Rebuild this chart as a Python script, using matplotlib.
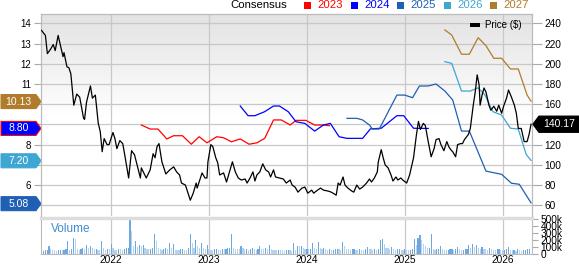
import matplotlib.pyplot as plt
import matplotlib.transforms as mtransforms
from matplotlib.patches import Polygon, Rectangle
import numpy as np

plt.rcParams['font.family'] = ['Liberation Sans', 'DejaVu Sans']

# price, weekly-ish samples (decimal year, $)
price_t = [2021.29, 2021.33, 2021.35, 2021.38, 2021.41, 2021.43, 2021.46, 2021.51, 2021.52, 2021.55,
           2021.57, 2021.59, 2021.62, 2021.65, 2021.68, 2021.72, 2021.73, 2021.75, 2021.79, 2021.81,
           2021.84, 2021.87, 2021.89, 2021.91, 2021.93, 2021.96, 2021.98, 2022.02, 2022.04, 2022.06,
           2022.09, 2022.12, 2022.14, 2022.18, 2022.21, 2022.24, 2022.30, 2022.31, 2022.36, 2022.40,
           2022.43, 2022.45, 2022.47, 2022.49, 2022.52, 2022.56, 2022.60, 2022.64, 2022.67, 2022.70,
           2022.72, 2022.76, 2022.77, 2022.81, 2022.84, 2022.87, 2022.88, 2022.93, 2022.96, 2022.98,
           2022.99, 2023.02, 2023.04, 2023.07, 2023.09, 2023.11, 2023.15, 2023.18, 2023.21, 2023.24,
           2023.27, 2023.30, 2023.33, 2023.37, 2023.39, 2023.42, 2023.45, 2023.47, 2023.49, 2023.52,
           2023.55, 2023.58, 2023.61, 2023.63, 2023.66, 2023.68, 2023.72, 2023.76, 2023.79, 2023.83,
           2023.85, 2023.88, 2023.91, 2023.95, 2023.98, 2024.01, 2024.05, 2024.07, 2024.11, 2024.14,
           2024.17, 2024.22, 2024.25, 2024.30, 2024.32, 2024.34, 2024.37, 2024.39, 2024.42, 2024.46,
           2024.48, 2024.51, 2024.54, 2024.57, 2024.61, 2024.64, 2024.66, 2024.69, 2024.72, 2024.73,
           2024.76, 2024.78, 2024.80, 2024.83, 2024.86, 2024.88, 2024.91, 2024.93, 2024.96, 2024.98,
           2025.02, 2025.05, 2025.09, 2025.12, 2025.14, 2025.16, 2025.19, 2025.21, 2025.24, 2025.27,
           2025.30, 2025.32, 2025.35, 2025.37, 2025.40, 2025.43, 2025.45, 2025.47, 2025.49, 2025.52,
           2025.54, 2025.57, 2025.59, 2025.61, 2025.65, 2025.67, 2025.70, 2025.72, 2025.74, 2025.76,
           2025.77, 2025.79, 2025.81, 2025.83, 2025.86, 2025.88, 2025.91, 2025.94, 2025.96, 2025.99,
           2026.01, 2026.04, 2026.06, 2026.09, 2026.12, 2026.14, 2026.16, 2026.19, 2026.22, 2026.25,
           2026.27, 2026.29]
price = [233, 228, 210, 214, 219, 213, 228, 207, 211, 197,
         196, 190, 159, 170, 167, 146, 145, 162, 178, 166,
         169, 141, 133, 113, 126, 120, 120, 132, 126, 116,
         124, 121, 110, 87, 114, 110, 87, 97, 87, 95,
         111, 107, 118, 121, 103, 91, 95, 98, 93, 90,
         82, 80, 77, 65, 72, 82, 77, 92, 87, 87,
         103, 120, 118, 107, 102, 90, 92, 83, 93, 103,
         93, 87, 85, 86, 82, 87, 93, 84, 90, 93,
         101, 95, 93, 88, 95, 88, 87, 86, 82, 85,
         80, 78, 73, 77, 78, 72, 75, 72, 75, 77,
         75, 74, 73, 70, 82, 80, 88, 80, 77, 74,
         73, 80, 76, 78, 82, 86, 83, 87, 93, 103,
         115, 107, 100, 97, 90, 84, 88, 85, 87, 85,
         82, 90, 107, 130, 143, 135, 141, 139, 123, 108,
         116, 125, 126, 120, 114, 123, 118, 115, 113, 108,
         120, 121, 121, 125, 130, 136, 159, 172, 189, 179,
         159, 169, 176, 172, 159, 154, 158, 153, 159, 151,
         158, 166, 174, 167, 159, 151, 136, 136, 123, 123,
         130, 140.17]

# consensus EPS estimates by fiscal year
c2023_t = [2022.31, 2022.40, 2022.48, 2022.57, 2022.64, 2022.73, 2022.82, 2022.90, 2022.98, 2023.08,
           2023.15, 2023.23, 2023.32, 2023.41, 2023.49, 2023.57, 2023.66, 2023.74, 2023.83, 2023.89,
           2023.99, 2024.08, 2024.17, 2024.23]
c2023 = [8.97, 8.77, 8.77, 8.28, 8.44, 8.44, 8.02, 8.39, 8.09, 8.39,
         8.34, 8.14, 8.28, 8.02, 8.09, 8.31, 9.22, 9.22, 8.97, 9.20,
         9.20, 8.97, 8.97, 8.94]
c2024_t = [2023.32, 2023.40, 2023.47, 2023.57, 2023.66, 2023.72, 2023.81, 2023.89, 2023.98, 2024.08,
           2024.17, 2024.24, 2024.33, 2024.41, 2024.57, 2024.65, 2024.76, 2024.92, 2024.99, 2025.09,
           2025.24]
c2024 = [9.91, 9.43, 9.43, 9.63, 9.91, 9.91, 9.63, 9.13, 9.05, 8.67,
         8.97, 9.05, 8.39, 8.31, 8.31, 8.78, 8.81, 9.43, 9.43, 8.81,
         8.80]
c2025_t = [2024.41, 2024.51, 2024.57, 2024.64, 2024.67, 2024.74, 2024.92, 2025.00, 2025.08, 2025.15,
           2025.24, 2025.32, 2025.41, 2025.49, 2025.58, 2025.66, 2025.83, 2025.99, 2026.09, 2026.17,
           2026.26, 2026.29]
c2025 = [9.30, 9.30, 9.22, 8.97, 8.77, 8.77, 10.45, 10.45, 10.32, 10.90,
         10.90, 11.00, 10.65, 10.21, 8.67, 8.67, 6.69, 6.53, 6.09, 6.04,
         5.35, 5.12]
c2026_t = [2025.41, 2025.48, 2025.58, 2025.67, 2025.75, 2025.82, 2025.90, 2025.99, 2026.08, 2026.16,
           2026.24, 2026.29]
c2026 = [12.10, 12.02, 10.65, 10.65, 10.81, 10.45, 9.63, 9.46, 8.81, 8.77,
         7.52, 7.22]
c2027_t = [2025.41, 2025.48, 2025.58, 2025.66, 2025.75, 2025.83, 2025.91, 2025.99, 2026.08, 2026.16,
           2026.25, 2026.29]
c2027 = [13.67, 13.42, 12.47, 12.47, 13.29, 12.89, 12.27, 12.27, 11.74, 11.74,
         10.45, 10.15]

# weekly volume (thousands), starting week of 2021.29
vol_start = 2021.29
volume = [40, 45, 50, 60, 120, 70, 55, 50, 45, 50, 55, 50, 60, 65, 190, 60, 65, 230, 220, 70,
          60, 75, 80, 70, 130, 90, 120, 80, 70, 75, 60, 55, 190, 90, 60, 70, 65, 140, 80, 60,
          55, 70, 65, 60, 75, 80, 90, 480, 330, 120, 180, 100, 130, 120, 130, 80, 70, 65, 75, 90,
          290, 190, 90, 70, 60, 75, 80, 70, 150, 90, 140, 60, 55, 50, 65, 70, 60, 55, 80, 290,
          150, 90, 200, 110, 80, 150, 90, 70, 130, 75, 60, 55, 65, 70, 60, 55, 70, 65, 75, 80,
          90, 280, 80, 75, 70, 65, 120, 80, 70, 75, 60, 65, 80, 70, 60, 65, 120, 75, 70, 80,
          65, 130, 75, 60, 55, 50, 60, 55, 50, 45, 50, 55, 50, 45, 160, 60, 120, 110, 120, 90,
          70, 75, 65, 70, 160, 80, 70, 170, 90, 75, 90, 70, 60, 65, 55, 60, 65, 75, 70, 60,
          170, 120, 75, 65, 60, 70, 75, 60, 55, 65, 60, 55, 75, 100, 70, 65, 60, 70, 55, 65,
          205, 215, 140, 90, 80, 70, 100, 75, 60, 65, 70, 60, 55, 65, 60, 55, 60, 70, 220, 130,
          230, 270, 200, 140, 120, 90, 90, 280, 70, 60, 65, 75, 120, 70, 60, 55, 60, 65, 70, 60,
          75, 100, 65, 55, 60, 70, 75, 130, 90, 140, 100, 130, 85, 75, 100, 70, 65, 60, 80, 75,
          60, 55, 65, 70, 55, 50, 60, 65, 95, 60, 50, 55, 45, 70, 50, 45, 55, 60, 65, 70]

years = [2022, 2023, 2024, 2025, 2026]
series = [('2023', '#ff0000', c2023_t, c2023),
          ('2024', '#0000ff', c2024_t, c2024),
          ('2025', '#1f5fb4', c2025_t, c2025),
          ('2026', '#3ea6d2', c2026_t, c2026),
          ('2027', '#b07c2c', c2027_t, c2027)]
tags = [(10.13, '#b07c2c', '#b07c2c'), (8.80, '#0000ff', '#ff0000'),
        (7.20, '#3ea6d2', '#3ea6d2'), (5.08, '#1f5fb4', '#1f5fb4')]

W, H = 579, 264
def fx(x): return x / W
def fy(y): return 1 - y / H

fig = plt.figure(figsize=(W / 100, H / 100), dpi=100)
ax = fig.add_axes([fx(41), fy(216), fx(532) - fx(41), fy(14) - fy(216)])
axv = fig.add_axes([fx(41), fy(254), fx(532) - fx(41), fy(218) - fy(254)])
ax2 = ax.twinx()

xmin, xmax = 2021.285, 2026.30
ylo, yhi = 4.47, 14.46

# background gradient
g = np.ones((200, 1, 3))
top = np.array([0.89, 0.89, 0.89])
for i in range(100):
    g[i, 0] = top + (1 - top) * i / 100
ax.imshow(g, extent=[0, 1, 0, 1], transform=ax.transAxes, aspect='auto', zorder=0)

gridc = '#c8c8c8'
for yv in range(5, 15):
    ax.axhline(yv, color=gridc, lw=0.9, zorder=1)
for yr in years:
    ax.axvline(yr, color=gridc, lw=0.9, zorder=1)
    axv.axvline(yr, color=gridc, lw=0.9, zorder=0)

for name, col, t, v in series:
    ax.plot(t, v, color=col, lw=0.9, zorder=3)

ax2.plot(price_t, price, color='black', lw=0.9, zorder=4)

ax.set_xlim(xmin, xmax)
ax.set_ylim(ylo, yhi)
ax2.set_ylim(20 * (ylo - 2), 20 * (yhi - 2))
ax.set_xticks([])
# labels hidden where a tag sits on top of them
left_ticks = list(range(5, 15))
ax.set_yticks(left_ticks)
ax.set_yticklabels(['' if v in (5, 7, 9, 10) else str(v) for v in left_ticks])
ax.tick_params(axis='y', length=5, color='#aaaaaa', labelsize=7, pad=2)
right_ticks = list(range(60, 241, 20))
ax2.set_yticks(right_ticks)
ax2.set_yticklabels(['' if v == 140 else str(v) for v in right_ticks])
ax2.tick_params(axis='y', length=7, color='#aaaaaa', labelsize=7.3, pad=2)
for a in (ax, ax2):
    for s in a.spines.values():
        s.set_color('#bbbbbb')
        s.set_linewidth(0.8)
    a.spines['bottom'].set_visible(False)

# left tags
tl = mtransforms.blended_transform_factory(ax.transAxes, ax.transData)
x0, x1, xt = (1 - 41) / 491, (36 - 41) / 491, 0.0
hh = 7 / 20.22
for val, fc, ec in tags:
    pts = [(x0, val - hh), (x1, val - hh), (xt, val), (x1, val + hh), (x0, val + hh)]
    ax.add_patch(Polygon(pts, closed=True, fc=fc, ec=ec, lw=0.8, transform=tl,
                         clip_on=False, zorder=6))
    ax.text((x0 + x1) / 2, val, f'{val:.2f}', transform=tl, color='white', fontsize=7.5,
            ha='center', va='center', zorder=7, clip_on=False)

# right price tag
tr = mtransforms.blended_transform_factory(ax2.transAxes, ax2.transData)
last = price[-1]
r0, r1, r2 = (533 - 41) / 491, (539 - 41) / 491, (579 - 41) / 491
rh = 8 / 20.22 * 20
pts = [(r0, last), (r1, last - rh), (r2, last - rh), (r2, last + rh), (r1, last + rh)]
ax2.add_patch(Polygon(pts, closed=True, fc='black', ec='black', transform=tr,
                      clip_on=False, zorder=6))
ax2.text((r1 + r2) / 2, last, f'{last:.2f}', transform=tr, color='white', fontsize=7.5,
         ha='center', va='center', zorder=7, clip_on=False)

# volume panel
vt = vol_start + np.arange(len(volume)) / 52
vcol = ['#6fa8dc' if i > 0 and volume[i] >= volume[i - 1] else '#b5d2ee'
        for i in range(len(volume))]
axv.bar(vt, np.array(volume) * 1000, width=0.012, color=vcol, zorder=2)
axv.set_xlim(xmin, xmax)
axv.set_ylim(0, 514000)
axv.yaxis.tick_right()
axv.set_yticks([0, 100000, 200000, 300000, 400000, 500000])
axv.set_yticklabels(['0', '100k', '200k', '300k', '400k', '500k'])
axv.tick_params(axis='y', length=4, color='#aaaaaa', labelsize=7.3, pad=2)
axv.set_xticks(years)
axv.set_xticklabels([str(y) for y in years])
axv.tick_params(axis='x', length=0, labelsize=7.3, pad=1)
for s in axv.spines.values():
    s.set_color('#bbbbbb')
    s.set_linewidth(0.8)
axv.spines['top'].set_color('#dddddd')
axv.spines['top'].set_linewidth(2.5)
fig.text(fx(51), fy(229.5), 'Volume', color='#3d8bd0', fontsize=8.5, ha='left', va='center')

# consensus legend
fig.text(fx(230), fy(5.5), 'Consensus', fontsize=8.2, ha='left', va='center')
sq_x = [304, 351, 397, 444, 490]
for (name, col, t, v), sx in zip(series, sq_x):
    fig.patches.append(Rectangle((fx(sx), fy(9)), fx(7), 7 / H, transform=fig.transFigure,
                                 fc=col, ec='none'))
    fig.text(fx(sx + 13), fy(5.5), name, color=col, fontsize=8.2, ha='left', va='center')

# price legend
fig.patches.append(Rectangle((fx(470), fy(27)), fx(10), 4 / H, transform=fig.transFigure,
                             fc='black', ec='none', zorder=8))
fig.text(fx(485), fy(25.5), 'Price ($)', fontsize=7, ha='left', va='center', zorder=8)

fig.savefig('out.png', dpi=100)
